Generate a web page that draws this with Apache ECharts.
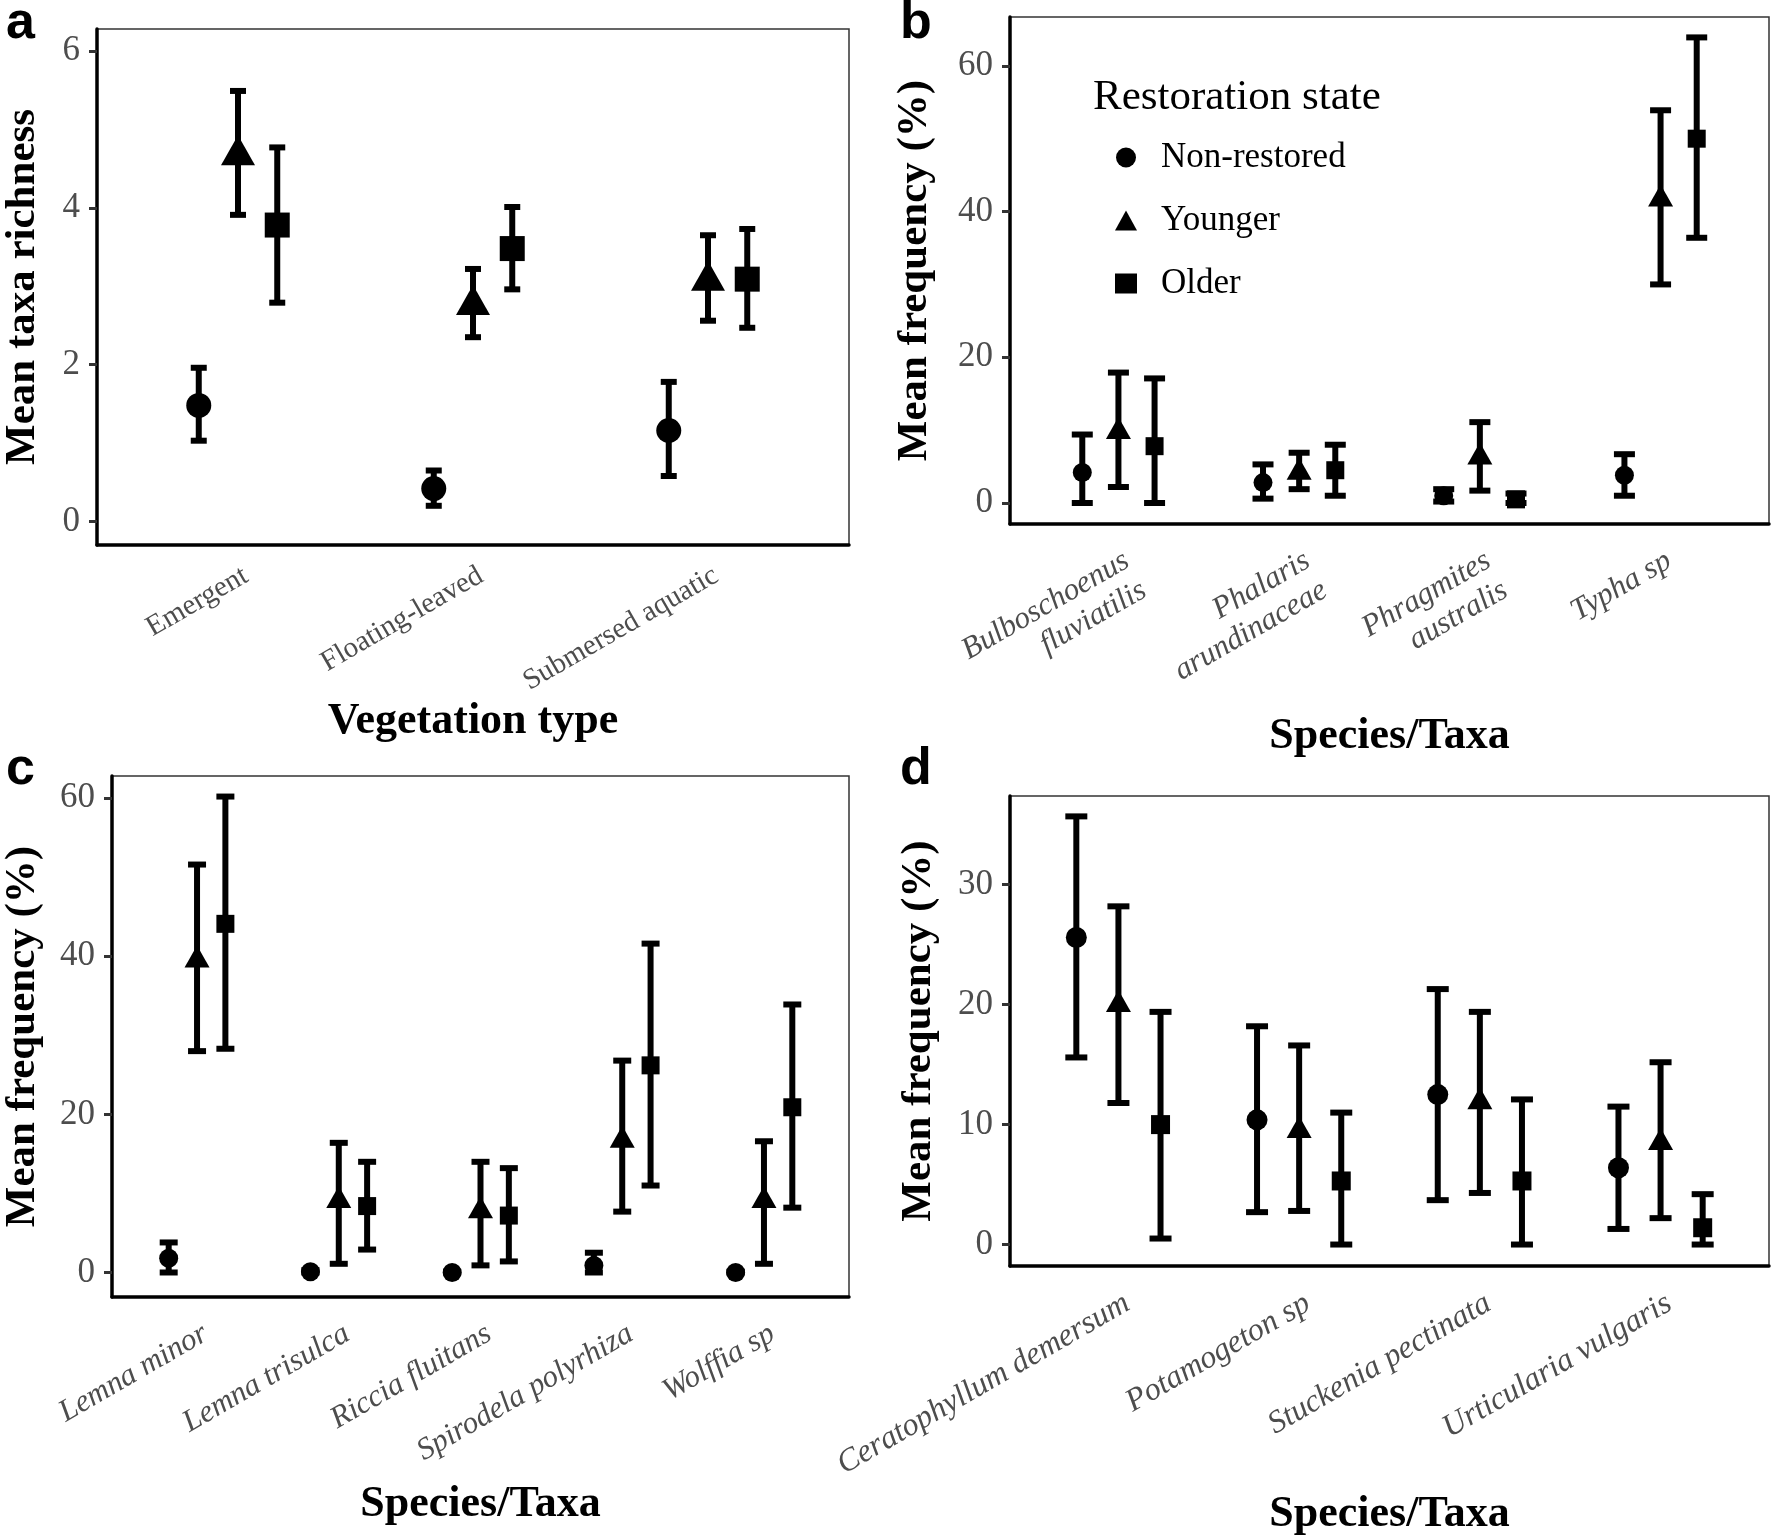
<!DOCTYPE html>
<html>
<head>
<meta charset="utf-8">
<title>Restoration state and macrophyte taxa</title>
<script src="https://cdn.jsdelivr.net/npm/echarts@6.0.0/dist/echarts.min.js"></script>
<style>
  html, body { margin: 0; padding: 0; background: #fff; }
  #chart { width: 1772px; height: 1538px; }
</style>
</head>
<body>
<div id="chart"></div>
<script>
// categories
const vegTypes = ['Emergent', 'Floating-leaved', 'Submersed aquatic']
const bTaxa = ['Bulboschoenus\nfluviatilis', 'Phalaris\narundinaceae', 'Phragmites\naustralis', 'Typha sp']
const cTaxa = ['Lemna minor', 'Lemna trisulca', 'Riccia fluitans', 'Spirodela polyrhiza', 'Wolffia sp']
const dTaxa = ['Ceratophyllum demersum', 'Potamogeton sp', 'Stuckenia pectinata', 'Urticularia vulgaris']
const groupNames = ['Non-restored', 'Younger', 'Older']

// [mean, lower, upper] per category
const aNon = [[1.48, 1.03, 1.96], [0.42, 0.20, 0.65], [1.16, 0.58, 1.78]]
const aYoung = [[4.67, 3.91, 5.49], [2.76, 2.35, 3.22], [3.07, 2.56, 3.65]]
const aOld = [[3.78, 2.79, 4.77], [3.48, 2.96, 4.01], [3.09, 2.47, 3.73]]

const bNon = [[4.2, 0, 9.4], [2.8, 0.6, 5.3], [1.0, 0.2, 1.9], [3.8, 1.0, 6.7]]
const bYoung = [[9.8, 2.2, 17.9], [4.2, 1.9, 6.9], [6.3, 1.7, 11.1], [41.7, 30.0, 53.9]]
const bOld = [[7.8, 0, 17.1], [4.5, 1.0, 8.0], [0.5, 0, 1.3], [50.0, 36.4, 63.9]]

const cNon = [[1.8, 0, 3.8], [0.1, 0, 0.3], [0, 0, 0.1], [0.9, 0, 2.5], [0, 0, 0.1]]
const cYoung = [[39.5, 28.0, 51.6], [9.1, 1.1, 16.4], [7.8, 0.9, 14.0], [16.7, 7.7, 26.8], [9.1, 1.1, 16.6]]
const cOld = [[44.1, 28.3, 60.2], [8.4, 2.9, 14.0], [7.2, 1.4, 13.2], [26.2, 11.0, 41.6], [20.9, 8.2, 33.9]]

const dNon = [[25.6, 15.6, 35.7], [10.4, 2.7, 18.2], [12.5, 3.7, 21.3], [6.4, 1.3, 11.5]]
const dYoung = [[20.0, 11.8, 28.2], [9.5, 2.8, 16.6], [11.9, 4.3, 19.4], [8.5, 2.2, 15.2]]
const dOld = [[10.0, 0.5, 19.4], [5.3, 0, 11.0], [5.3, 0, 12.1], [1.4, 0, 4.2]]

// tick labels
const aTicks = [0, 2, 4, 6]
const bTicks = [0, 20, 40, 60]
const cTicks = [0, 20, 40, 60]
const dTicks = [0, 10, 20, 30]

const serif = 'Liberation Serif'
const grey = '#4d4d4d'

const panels = [
  {
    letter: 'a', letterPos: [6, -2],
    grid: { left: 87, top: 29, width: 762, height: 516 },
    yMin: -0.3, yMax: 6.28, names: vegTypes, ticks: aTicks,
    groups: [aNon, aYoung, aOld], dodge: 0.167, cap: 16,
    sizes: [25, [34, 30], 25], italic: false, labelSize: 29, labelMargin: 15,
    yName: 'Mean taxa richness', xName: 'Vegetation type', yGap: 53, xGap: 150
  },
  {
    letter: 'b', letterPos: [900, -2],
    grid: { left: 1010, top: 17, width: 759, height: 507 },
    yMin: -2.88, yMax: 66.7, names: bTaxa, ticks: bTicks,
    groups: [bNon, bYoung, bOld], dodge: 0.2, cap: 21,
    sizes: [19, [25, 22], 18], italic: true, labelSize: 31, labelMargin: 20,
    yName: 'Mean frequency (%)', xName: 'Species/Taxa', yGap: 74, xGap: 191
  },
  {
    letter: 'c', letterPos: [6, 744],
    grid: { left: 112, top: 776, width: 737, height: 521 },
    yMin: -3.1, yMax: 62.8, names: cTaxa, ticks: cTicks,
    groups: [cNon, cYoung, cOld], dodge: 0.2, cap: 18,
    sizes: [19, [25, 22], 18], italic: true, labelSize: 31, labelMargin: 20,
    yName: 'Mean frequency (%)', xName: 'Species/Taxa', yGap: 68, xGap: 186
  },
  {
    letter: 'd', letterPos: [900, 744],
    grid: { left: 1010, top: 796, width: 759, height: 473 },
    yMin: -1.79, yMax: 37.4, names: dTaxa, ticks: dTicks,
    groups: [dNon, dYoung, dOld], dodge: 0.233, cap: 22,
    sizes: [21, [25, 22], 19], italic: true, labelSize: 32, labelMargin: 20,
    yName: 'Mean frequency (%)', xName: 'Species/Taxa', yGap: 70, xGap: 227
  }
]

const symbols = ['circle', 'triangle', 'rect']

function errorBars(cap, lw) {
  return function (params, api) {
    const x = api.value(0)
    const lo = api.coord([x, api.value(1)])
    const hi = api.coord([x, api.value(2)])
    const style = { stroke: '#000', lineWidth: lw, fill: null }
    return {
      type: 'group',
      children: [
        { type: 'line', shape: { x1: lo[0], y1: lo[1], x2: hi[0], y2: hi[1] }, style: style },
        { type: 'line', shape: { x1: hi[0] - cap / 2, y1: hi[1], x2: hi[0] + cap / 2, y2: hi[1] }, style: style },
        { type: 'line', shape: { x1: lo[0] - cap / 2, y1: lo[1], x2: lo[0] + cap / 2, y2: lo[1] }, style: style }
      ]
    }
  }
}

const grids = []
const xAxes = []
const yAxes = []
const series = []
const graphics = []

panels.forEach(function (p, i) {
  grids.push(Object.assign({ show: true, borderColor: '#333', borderWidth: 1.5, backgroundColor: 'transparent' }, p.grid))
  const catVals = p.names.map(function (n, k) { return k + 1 })
  xAxes.push({
    gridIndex: i, type: 'value', min: 0.4, max: p.names.length + 0.6,
    axisLine: { show: true, onZero: false, lineStyle: { color: '#000', width: 3.5 } },
    axisTick: { show: false },
    splitLine: { show: false },
    axisLabel: {
      customValues: catVals, rotate: 30, margin: p.labelMargin, verticalAlign: 'top',
      color: grey, fontFamily: serif, fontSize: p.labelSize, lineHeight: p.labelSize * 1.1,
      fontStyle: p.italic ? 'italic' : 'normal',
      formatter: function (v) { return p.names[Math.round(v) - 1] || '' }
    },
    name: p.xName, nameLocation: 'middle', nameGap: p.xGap,
    nameTextStyle: { fontFamily: serif, fontSize: 44, fontWeight: 'bold', color: '#000', verticalAlign: 'top' }
  })
  yAxes.push({
    gridIndex: i, type: 'value', min: p.yMin, max: p.yMax,
    axisLine: { show: true, onZero: false, lineStyle: { color: '#000', width: 3.5 } },
    axisTick: { show: true, customValues: p.ticks, length: 8, lineStyle: { color: '#333', width: 3 } },
    splitLine: { show: false },
    axisLabel: { customValues: p.ticks, margin: 17, color: grey, fontFamily: serif, fontSize: 35 },
    name: p.yName, nameLocation: 'middle', nameGap: p.yGap, nameRotate: 90,
    nameTextStyle: { fontFamily: serif, fontSize: 43, fontWeight: 'bold', color: '#000' }
  })
  const offs = [-p.dodge, 0, p.dodge]
  p.groups.forEach(function (g, gi) {
    series.push({
      type: 'custom', name: p.letter + '-err-' + gi, xAxisIndex: i, yAxisIndex: i,
      renderItem: errorBars(p.cap, 6), silent: true,
      encode: { x: 0, y: [1, 2] },
      data: g.map(function (d, k) { return [k + 1 + offs[gi], d[1], d[2]] })
    })
  })
  p.groups.forEach(function (g, gi) {
    const size = p.sizes[gi]
    series.push({
      type: 'scatter', name: groupNames[gi], xAxisIndex: i, yAxisIndex: i,
      symbol: symbols[gi], symbolSize: size,
      symbolOffset: gi === 1 ? [0, -size[1] / 6] : [0, 0],
      itemStyle: { color: '#000', opacity: 1 }, silent: true,
      data: g.map(function (d, k) { return [k + 1 + offs[gi], d[0]] })
    })
  })
  graphics.push({
    type: 'text', left: p.letterPos[0], top: p.letterPos[1],
    style: { text: p.letter, font: 'bold 52px "Liberation Sans"', fill: '#000' }
  })
})

graphics.push({
  type: 'text', left: 1093, top: 76,
  style: { text: 'Restoration state', font: '43px "Liberation Serif"', fill: '#000' }
})

const chart = echarts.init(document.getElementById('chart'), null, { renderer: 'canvas' })
chart.setOption({
  animation: false,
  backgroundColor: '#fff',
  grid: grids,
  xAxis: xAxes,
  yAxis: yAxes,
  legend: {
    orient: 'vertical', left: 1110, top: 135, itemGap: 28, selectedMode: false,
    itemWidth: 22, itemHeight: 20,
    textStyle: { fontFamily: serif, fontSize: 35, color: '#000', padding: [0, 0, 0, 19] },
    data: [
      { name: 'Non-restored', icon: 'circle' },
      { name: 'Younger', icon: 'triangle' },
      { name: 'Older', icon: 'rect', itemStyle: { color: '#000' } }
    ]
  },
  graphic: graphics,
  series: series
})
</script>
</body>
</html>
